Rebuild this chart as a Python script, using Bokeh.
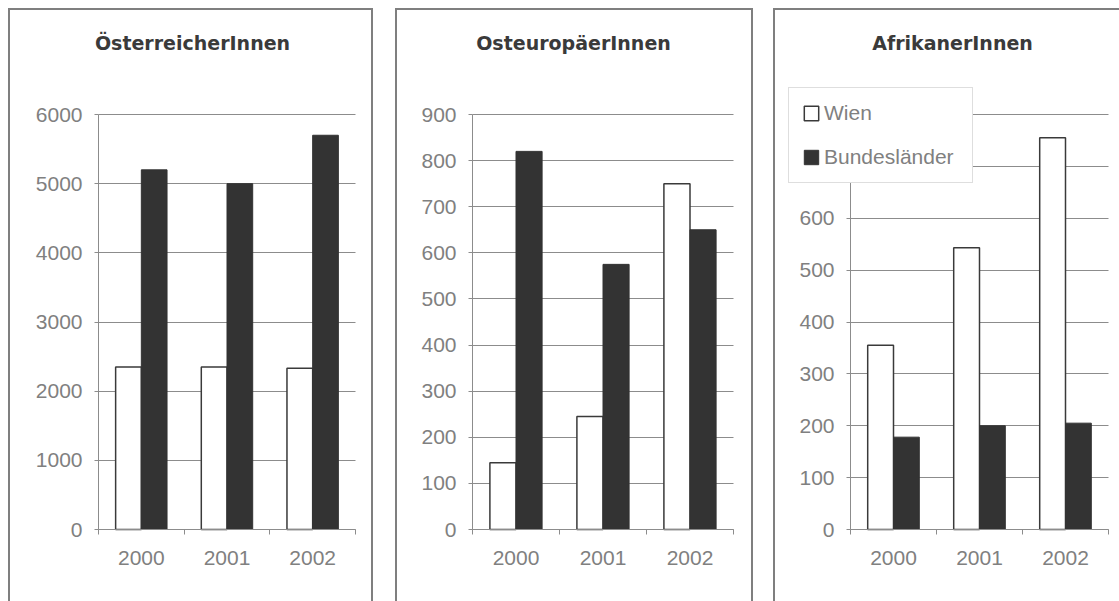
import numpy as np
from bokeh.plotting import figure
from bokeh.layouts import row
from bokeh.models import Range1d, FixedTicker, Label, Legend
from bokeh.embed import file_html
from bokeh.resources import INLINE

years = ["2000", "2001", "2002"]
titles = ["ÖsterreicherInnen", "OsteuropäerInnen", "AfrikanerInnen"]
series_names = ["Wien", "Bundesländer"]

oesterreich_wien = [2350, 2350, 2330]
oesterreich_bl = [5200, 5000, 5700]
osteuropa_wien = [145, 245, 750]
osteuropa_bl = [820, 575, 650]
afrika_wien = [355, 543, 755]
afrika_bl = [178, 200, 205]

y_max = [6000, 900, 800]
y_step = [1000, 100, 100]

FONT = "Liberation Sans"
GRID = "#8c8c8c"
TXT = "#808080"
DARK = "#333333"
BC = "#7f7f7f"

# panel geometry in page pixels: canvas left/width, axis x-pixel, end-of-axis x-pixel, title centre
PAGE_TOP, PAGE_BOTTOM = 8, 601
Y0_PX, YTOP_PX = 529, 114
specs = [
    dict(L=8, W=365, A=98, E=355, ml=8, tc=192,
         shadow=f"inset 2px 2px 0 0 {BC}, inset -2px 0 0 0 {BC}"),
    dict(L=395, W=358, A=472, E=733, ml=22, tc=573,
         shadow=f"inset 2px 2px 0 0 {BC}, inset -2px 0 0 0 {BC}"),
    dict(L=773, W=346, A=850, E=1108, ml=20, tc=952,
         shadow=f"inset 2px 2px 0 0 {BC}"),
]
H = PAGE_BOTTOM - PAGE_TOP

data = [(oesterreich_wien, oesterreich_bl), (osteuropa_wien, osteuropa_bl), (afrika_wien, afrika_bl)]

figs = []
for k, (wien, bl) in enumerate(data):
    s = specs[k]
    n = len(years)
    ux = (s["E"] - s["A"]) / n
    x_range = Range1d(-(s["A"] - s["L"]) / ux, n + (s["L"] + s["W"] - s["E"]) / ux)
    uy = (Y0_PX - YTOP_PX) / y_max[k]
    y_range = Range1d(-(PAGE_BOTTOM - Y0_PX) / uy, y_max[k] + (YTOP_PX - PAGE_TOP) / uy)

    p = figure(width=s["W"], height=H, output_backend="svg", toolbar_location=None,
               title=None, x_range=x_range, y_range=y_range,
               min_border=0, styles={"box-shadow": s["shadow"]},
               margin=(PAGE_TOP, 0, 0, s["ml"]))
    p.outline_line_color = None
    p.background_fill_color = None
    p.border_fill_color = None

    idx = np.arange(n) + 0.5
    r1 = p.vbar(x=idx - 0.15, top=wien, width=0.3, fill_color="white",
                line_color="#3a3a3a", line_width=1.5)
    r2 = p.vbar(x=idx + 0.15, top=bl, width=0.3, fill_color=DARK,
                line_color=DARK, line_width=1)

    # x axis at y = 0: labels at category centres, small ticks at category boundaries
    p.xaxis.fixed_location = 0
    p.xaxis.bounds = (0, n)
    p.xaxis.ticker = FixedTicker(ticks=list(idx), minor_ticks=list(range(n + 1)))
    p.xaxis.major_label_overrides = {float(i + 0.5): y for i, y in enumerate(years)}
    p.xaxis.major_tick_line_color = None
    p.xaxis.major_tick_out = 0
    p.xaxis.minor_tick_out = 5
    p.xaxis.minor_tick_in = 0
    p.xaxis.minor_tick_line_color = GRID
    p.xaxis.axis_line_color = GRID
    p.xaxis.major_label_text_font = FONT
    p.xaxis.major_label_text_font_size = "21px"
    p.xaxis.major_label_text_color = TXT
    p.xaxis.major_label_standoff = 16
    p.xgrid.grid_line_color = None

    # y axis at x = 0
    p.yaxis.fixed_location = 0
    p.yaxis.bounds = (0, y_max[k])
    p.yaxis.ticker = FixedTicker(ticks=list(range(0, y_max[k] + 1, y_step[k])))
    p.yaxis.minor_tick_line_color = None
    p.yaxis.major_tick_out = 4
    p.yaxis.major_tick_in = 0
    p.yaxis.major_tick_line_color = GRID
    p.yaxis.axis_line_color = GRID
    p.yaxis.major_label_text_font = FONT
    p.yaxis.major_label_text_font_size = "21px"
    p.yaxis.major_label_text_color = TXT
    p.yaxis.major_label_standoff = 12
    p.ygrid.grid_line_color = GRID
    p.ygrid.grid_line_width = 1
    p.ygrid.cross_bounds = (0, n)

    p.add_layout(Label(x=s["tc"] - s["L"], y=PAGE_BOTTOM - 42, x_units="screen", y_units="screen",
                       text=titles[k], text_align="center", text_baseline="middle",
                       text_font="DejaVu Sans", text_font_style="bold", text_font_size="19px",
                       text_color="#3a3a3a"))

    if k == 2:
        leg = Legend(items=[(series_names[0], [r1]), (series_names[1], [r2])],
                     location=(788 - s["L"], PAGE_BOTTOM - 183), orientation="vertical")
        leg.label_text_font = FONT
        leg.label_text_font_size = "21px"
        leg.label_text_color = TXT
        leg.glyph_width = 18
        leg.glyph_height = 18
        leg.label_height = 21
        leg.label_width = 135
        leg.label_standoff = 4
        leg.spacing = 20
        leg.padding = 13
        leg.margin = 0
        leg.border_line_color = "#bdbdbd"
        leg.border_line_width = 1
        leg.background_fill_color = "white"
        leg.background_fill_alpha = 1
        p.add_layout(leg, "center")

    figs.append(p)

layout = row(*figs, spacing=0)
open("out.html", "w").write(file_html(layout, INLINE))
